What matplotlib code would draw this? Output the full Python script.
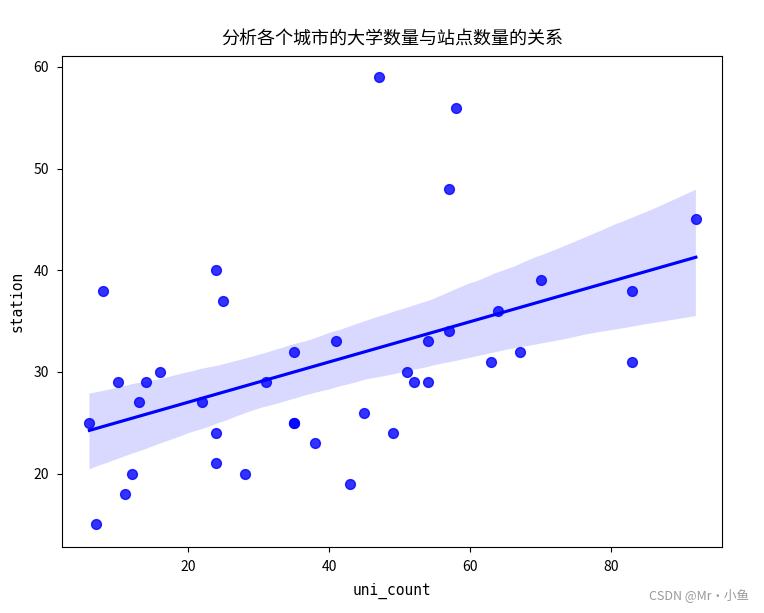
import matplotlib
matplotlib.use("Agg")
import matplotlib.pyplot as plt
import seaborn as sns
import pandas as pd

plt.rcParams['font.family'] = ['Noto Sans CJK SC', 'DejaVu Sans']
plt.rcParams['axes.unicode_minus'] = False

uni_count = [6, 7, 8, 10, 11, 12, 13, 14, 16, 22, 24, 24, 24, 25, 28, 31, 35, 35, 35,
             38, 41, 43, 45, 47, 49, 51, 52, 54, 54, 57, 57, 58, 63, 64, 67, 70, 83, 83, 92]
station = [25, 15, 38, 29, 18, 20, 27, 29, 30, 27, 40, 24, 21, 37, 20, 29, 32, 25, 25,
           23, 33, 19, 26, 59, 24, 30, 29, 33, 29, 48, 34, 56, 31, 36, 32, 39, 38, 31, 45]

df = pd.DataFrame({"uni_count": uni_count, "station": station})

fig, ax = plt.subplots(figsize=(7.64, 6.13), dpi=100)
plt.subplots_adjust(left=0.081, right=0.945, top=0.909, bottom=0.108)

sns.regplot(x="uni_count", y="station", data=df, color="blue", ax=ax, seed=1,
            scatter_kws={"s": 50})

ax.set_xlim(2.1, 95.7)
ax.set_ylim(12.8, 61.1)
ax.set_xticks([20, 40, 60, 80])
ax.set_yticks([20, 30, 40, 50, 60])
ax.tick_params(labelsize=10, pad=6)
ax.set_xlabel("uni_count", fontsize=10.5, family=["DejaVu Sans Mono"], labelpad=6)
ax.set_ylabel("station", fontsize=10.5, family=["DejaVu Sans Mono"], labelpad=6)
ax.set_title("分析各个城市的大学数量与站点数量的关系", fontsize=13, pad=8)

fig.text(0.98, 0.018, "CSDN @Mr·小鱼", ha="right", va="bottom", fontsize=9, color="#999999")

fig.savefig("out.png", dpi=100)
